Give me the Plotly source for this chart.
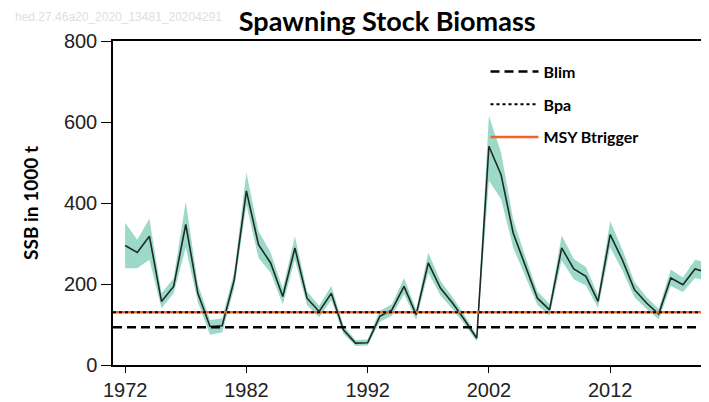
import plotly.graph_objects as go

years = list(range(1972, 2021))
ssb = [295, 278, 318, 157, 194, 347, 177, 95, 97, 210,
       430, 297, 252, 169, 289, 165, 132, 177, 87, 54,
       55, 120, 136, 194, 124, 252, 190, 153, 111, 66,
       540, 470, 326, 243, 165, 136, 289, 237, 219, 157,
       322, 260, 186, 153, 126, 215, 198, 237, 229]
ssb_low = [239, 239, 260, 140, 177, 290, 155, 75, 80, 190,
           395, 265, 228, 150, 260, 148, 118, 160, 77, 47,
           48, 106, 122, 175, 111, 228, 172, 138, 100, 58,
           455, 410, 290, 218, 148, 122, 258, 212, 196, 141,
           290, 234, 167, 138, 113, 195, 180, 215, 208]
ssb_high = [351, 309, 361, 177, 214, 404, 200, 111, 115, 230,
            475, 330, 278, 188, 318, 182, 146, 195, 97, 62,
            63, 134, 150, 214, 137, 277, 208, 168, 122, 74,
            615, 525, 360, 268, 182, 150, 320, 262, 242, 173,
            355, 286, 205, 168, 139, 236, 216, 260, 252]
blim = 93
bpa = 130
msy_btrigger = 130
x_ticks = [1972, 1982, 1992, 2002, 2012]
y_ticks = [0, 200, 400, 600, 800]

band_color = "rgba(140,210,190,0.85)"

fig = go.Figure()
fig.add_trace(go.Scatter(x=years, y=ssb_high, mode="lines", line=dict(width=0),
                         showlegend=False, hoverinfo="skip"))
fig.add_trace(go.Scatter(x=years, y=ssb_low, mode="lines", line=dict(width=0),
                         fill="tonexty", fillcolor=band_color,
                         showlegend=False, hoverinfo="skip"))
fig.add_trace(go.Scatter(x=years, y=ssb, mode="lines",
                         line=dict(color="#1e2a26", width=1.6), showlegend=False))

x_ends = [1971, 2020.15]
fig.add_trace(go.Scatter(x=x_ends, y=[blim, blim], mode="lines", name="Blim",
                         legendgroup="a", legendrank=1,
                         line=dict(color="black", width=2.5, dash="9px,5px")))
fig.add_trace(go.Scatter(x=x_ends, y=[msy_btrigger, msy_btrigger], mode="lines",
                         name="MSY Btrigger", legendgroup="c", legendrank=3,
                         line=dict(color="#f0642a", width=2.5)))
fig.add_trace(go.Scatter(x=x_ends, y=[bpa, bpa], mode="lines", name="Bpa",
                         legendgroup="b", legendrank=2,
                         line=dict(color="black", width=2, dash="dot")))

fig.update_layout(
    width=701, height=394,
    margin=dict(l=105, r=0, t=33, b=37, autoexpand=False),
    plot_bgcolor="white", paper_bgcolor="white",
    title=dict(text="<b>Spawning Stock Biomass</b>", x=0.541, xanchor="center",
               y=0.965, yanchor="middle",
               font=dict(family="Lato", size=27, color="black")),
    legend=dict(x=0.625, y=0.958, xanchor="left", yanchor="top",
                font=dict(family="Lato", size=16, color="black", weight="bold"),
                bgcolor="rgba(0,0,0,0)", itemwidth=48, tracegroupgap=9),
    xaxis=dict(range=x_ends, tickvals=x_ticks, showgrid=False, zeroline=False,
               automargin=False,
               showline=True, linecolor="black", linewidth=1.5, mirror=True,
               ticks="outside", ticklen=6, tickcolor="black",
               tickfont=dict(family="Liberation Sans", size=20, color="#222")),
    yaxis=dict(range=[0, 800], tickvals=y_ticks, showgrid=False, zeroline=False,
               automargin=False,
               showline=True, linecolor="black", linewidth=1.5,
               ticks="outside", ticklen=10, tickcolor="black",
               tickfont=dict(family="Liberation Sans", size=20, color="#222"),
               title=dict(text="<b>SSB in 1000 t</b>", standoff=20,
                          font=dict(family="Lato", size=19, color="black"))),
    annotations=[dict(text="hed.27.46a20_2020_13481_20204291", xref="paper", yref="paper",
                      x=-0.168, y=1.074, xanchor="left", yanchor="middle", showarrow=False,
                      font=dict(family="Liberation Sans", size=12, color="#dedede"))],
)

fig.write_html("out.html")
